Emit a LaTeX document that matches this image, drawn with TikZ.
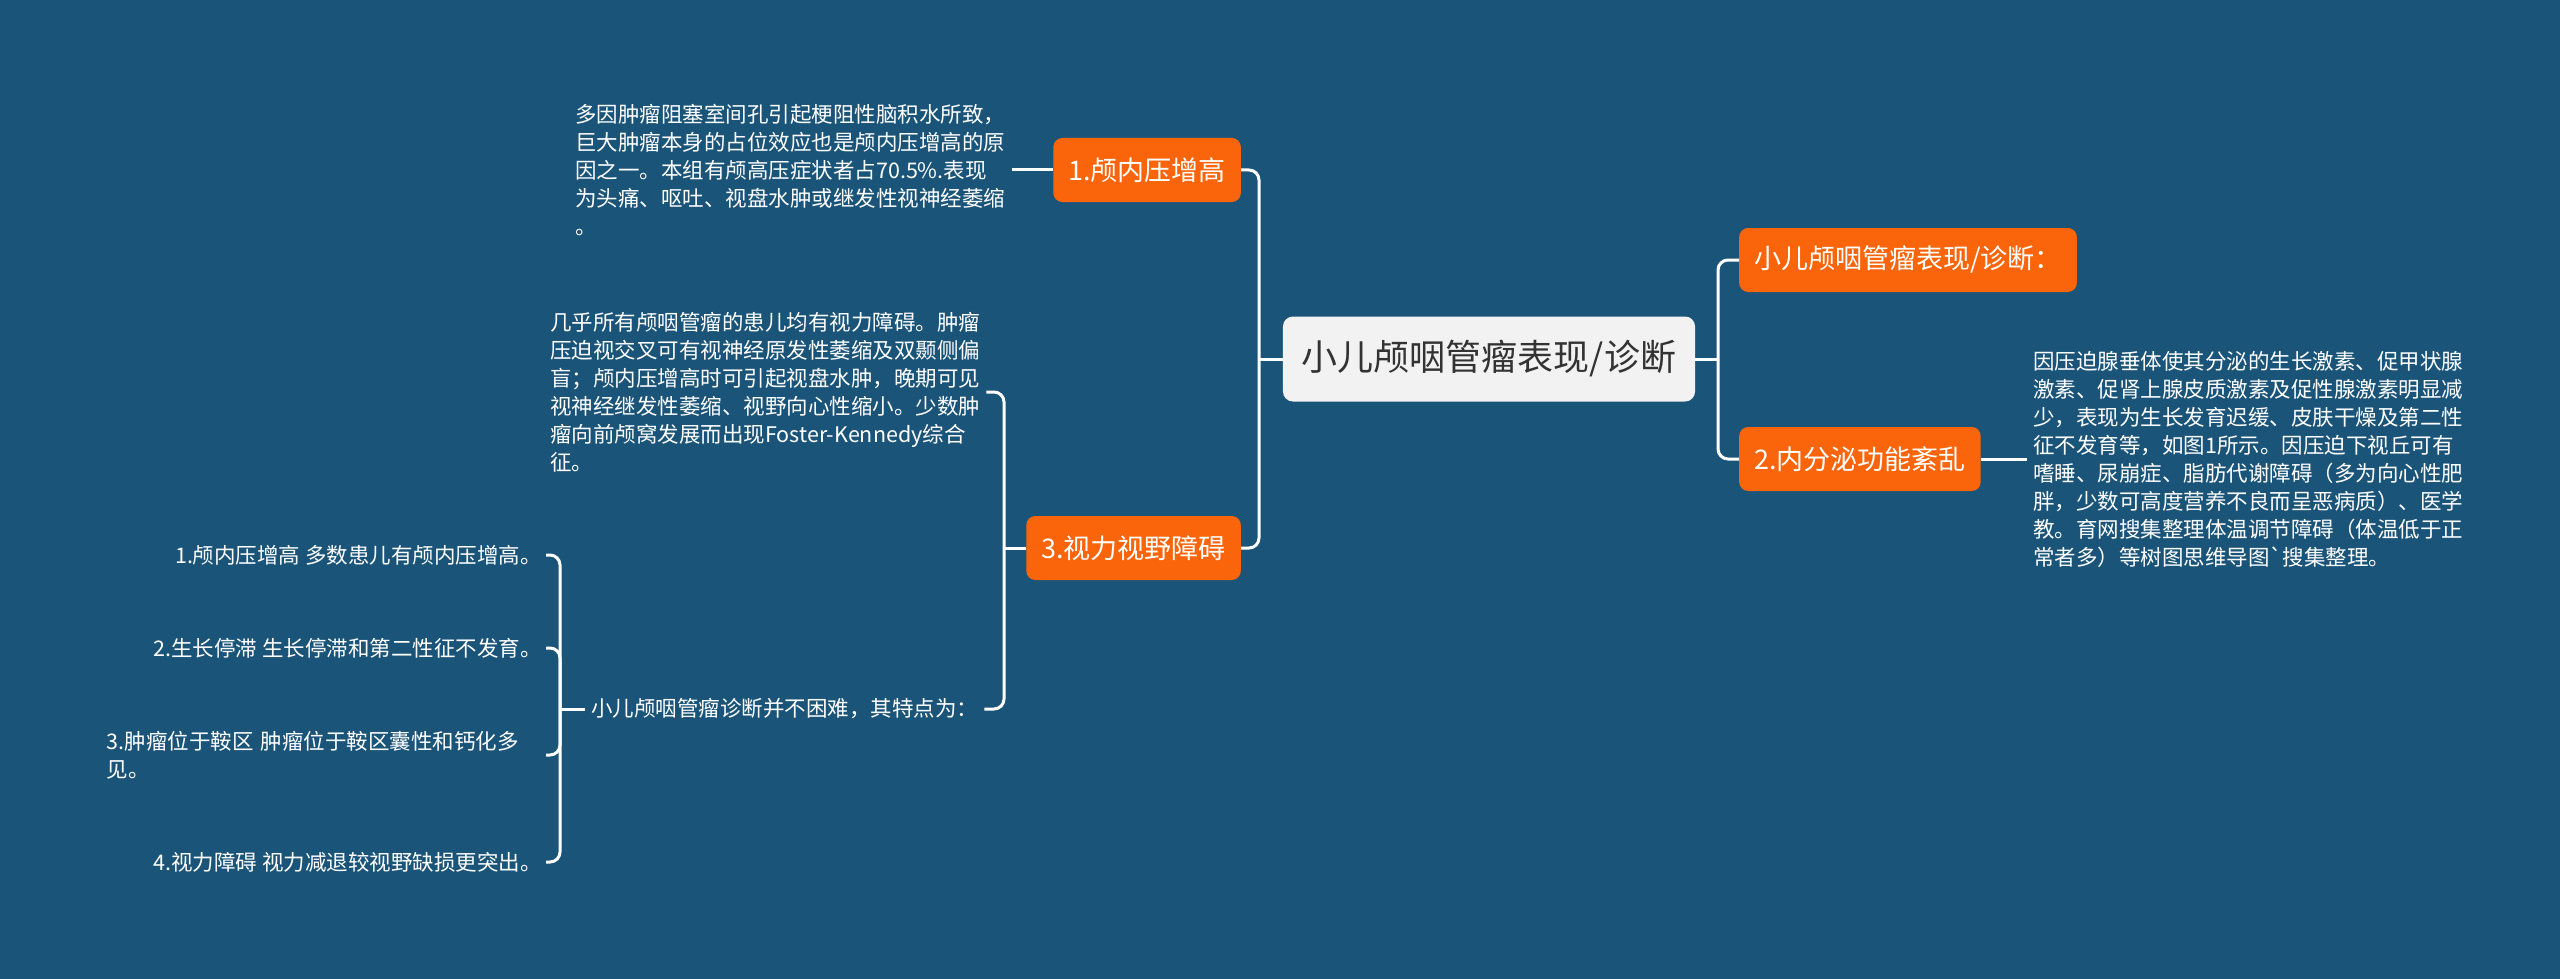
\documentclass[tikz,border=0pt]{standalone}
\usepackage{fontspec}
\setmainfont{Noto Sans CJK SC}
\definecolor{bgblue}{RGB}{27,84,121}
\definecolor{topicorange}{RGB}{250,100,10}
\definecolor{centralfill}{RGB}{242,242,242}
\definecolor{centraltext}{RGB}{51,51,51}
\tikzset{
  conn/.style={draw=white, line width=3pt, rounded corners=10pt},
  topic/.style={fill=topicorange, text=white, rounded corners=9pt,
    font=\fontsize{27}{32}\selectfont, inner xsep=15pt, inner ysep=0pt, minimum height=64pt},
  central/.style={fill=centralfill, text=centraltext, rounded corners=10pt,
    font=\fontsize{36}{42}\selectfont, inner xsep=19pt, inner ysep=0pt, minimum height=85pt},
  txt/.style={text=white, font=\fontsize{21.5}{28}\selectfont, align=left, inner sep=6pt},
  item/.style={text=white, font=\fontsize{21.5}{28}\selectfont, align=left, inner sep=4pt, anchor=east}
}
\begin{document}
\begin{tikzpicture}[x=1pt,y=-1pt]
\useasboundingbox (0,0) rectangle (2560,979);
\fill[bgblue] (0,0) rectangle (2560,979);

% central
\node[central] (C) at (1489,359) {小儿颅咽管瘤表现/诊断};

% left topics
\node[topic, anchor=east] (N1) at (1241,170) {1.颅内压增高};
\node[topic, anchor=east] (N3) at (1241,548) {3.视力视野障碍};

% right topics
\node[topic, anchor=west] (R1) at (1739,260) {小儿颅咽管瘤表现/诊断：};
\node[topic, anchor=west] (R2) at (1739,459) {2.内分泌功能紊乱};

% text blocks
\node[txt, anchor=west, text width=431pt] (T1) at (569,170) {多因肿瘤阻塞室间孔引起梗阻性脑积水所致，\\巨大肿瘤本身的占位效应也是颅内压增高的原\\因之一。本组有颅高压症状者占70.5\%.表现\\为头痛、呕吐、视盘水肿或继发性视神经萎缩\\。};

\node[txt, anchor=west, text width=430pt] (T2) at (544,392) {几乎所有颅咽管瘤的患儿均有视力障碍。肿瘤\\压迫视交叉可有视神经原发性萎缩及双颞侧偏\\盲；颅内压增高时可引起视盘水肿，晚期可见\\视神经继发性萎缩、视野向心性缩小。少数肿\\瘤向前颅窝发展而出现Foster-Kennedy综合\\征。};

\node[txt, anchor=west] (T4) at (585,709) {小儿颅咽管瘤诊断并不困难，其特点为：};

\node[txt, anchor=west, text width=440pt] (T5) at (2027,459) {因压迫腺垂体使其分泌的生长激素、促甲状腺\\激素、促肾上腺皮质激素及促性腺激素明显减\\少，表现为生长发育迟缓、皮肤干燥及第二性\\征不发育等，如图1所示。因压迫下视丘可有\\嗜睡、尿崩症、脂肪代谢障碍（多为向心性肥\\胖，少数可高度营养不良而呈恶病质）、医学\\教。育网搜集整理体温调节障碍（体温低于正\\常者多）等树图思维导图\textasciigrave 搜集整理。};

% items
\node[item] (I1) at (546,555) {1.颅内压增高 多数患儿有颅内压增高。};
\node[item] (I2) at (546,648) {2.生长停滞 生长停滞和第二性征不发育。};
\node[item, text width=435pt] (I3) at (546,755) {3.肿瘤位于鞍区 肿瘤位于鞍区囊性和钙化多\\见。};
\node[item] (I4) at (546,862) {4.视力障碍 视力减退较视野缺损更突出。};

% junction coordinates
\coordinate (jL) at (1259,359);
\coordinate (jR) at (1718,359);
\coordinate (jN3) at (1004,548);
\coordinate (jI) at (560,709);

% connectors
\draw[conn] (C.west) -- (jL);
\draw[conn] (N1.east) -| (jL) |- (N3.east);
\draw[conn] (C.east) -- (jR);
\draw[conn] (R1.west) -| (jR) |- (R2.west);
\draw[conn] (T1.east) -- (N1.west);
\draw[conn] (R2.east) -- (T5.west);
\draw[conn] (N3.west) -- (jN3);
\draw[conn] (T2.east) -| (jN3) |- (T4.east);
\draw[conn] (T4.west) -- (jI);
\draw[conn] (I1.east) -| (jI) |- (I4.east);
\draw[conn] (I2.east) -| (jI);
\draw[conn] (I3.east) -| (jI);
\end{tikzpicture}
\end{document}
